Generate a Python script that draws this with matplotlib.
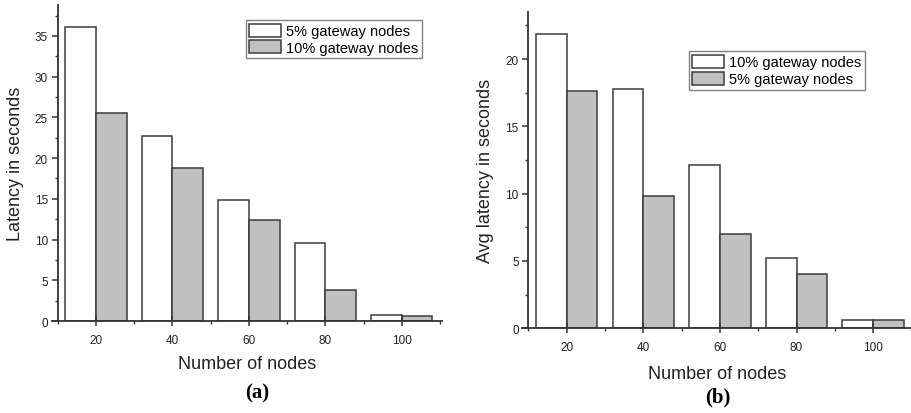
import matplotlib
matplotlib.use("Agg")
import matplotlib.pyplot as plt
import numpy as np
from matplotlib.ticker import MultipleLocator

plt.rcParams['font.family'] = ['Liberation Sans', 'DejaVu Sans']

# Dados
nodes = [20, 40, 60, 80, 100]
lat_a_5 = [36.1, 22.7, 14.9, 9.6, 0.7]
lat_a_10 = [25.5, 18.8, 12.4, 3.8, 0.6]
lat_b_10 = [21.9, 17.8, 12.1, 5.2, 0.6]
lat_b_5 = [17.6, 9.8, 7.0, 4.0, 0.6]

edge = '#3c3c3c'
cinza = '#c0c0c0'
eixo = '#333333'

fig = plt.figure(figsize=(9.11, 4.14), dpi=100)
ax1 = fig.add_axes([0.0567, 0.2222, 0.4285, 0.7633])
ax2 = fig.add_axes([0.5733, 0.2046, 0.4280, 0.7640])


def desenha(ax, v1, v2, lab1, lab2, ymax, xmax, ylabel, leg_pos, xpad):
  x = np.array(nodes)
  ax.bar(x - 4, v1, width=8, color='white', edgecolor=edge, linewidth=1.1, label=lab1)
  ax.bar(x + 4, v2, width=8, color=cinza, edgecolor=edge, linewidth=1.1, label=lab2)
  ax.set_xlim(8.4, xmax)
  ax.set_ylim(0, ymax)
  # eixo y cruza o eixo x em 10
  ax.spines['left'].set_position(('data', 10))
  ax.set_xticks(nodes)
  ax.xaxis.set_minor_locator(MultipleLocator(10))
  ax.yaxis.set_major_locator(MultipleLocator(5))
  ax.yaxis.set_minor_locator(MultipleLocator(2.5))
  for s in ['top', 'right']:
    ax.spines[s].set_visible(False)
  for s in ['left', 'bottom']:
    ax.spines[s].set_color(eixo)
    ax.spines[s].set_linewidth(1.3)
  ax.tick_params(which='major', direction='out', length=4, width=1.1, color=eixo,
                 labelsize=8.5, labelcolor='#222222', pad=3)
  ax.tick_params(axis='x', which='major', direction='inout', length=7, pad=6)
  ax.tick_params(which='minor', direction='out', length=2.5, width=1.0, color=eixo)
  ax.set_xlabel('Number of nodes', fontsize=13, labelpad=xpad, color='#222222')
  ax.set_ylabel(ylabel, fontsize=13, labelpad=8, color='#222222')
  ax.legend(loc='upper right', bbox_to_anchor=leg_pos, borderaxespad=0,
            fontsize=10.5, fancybox=False, edgecolor='#808080', framealpha=1,
            handlelength=2.2, handleheight=1.0, labelspacing=0.15,
            handletextpad=0.3, borderpad=0.25)


desenha(ax1, lat_a_5, lat_a_10, '5% gateway nodes', '10% gateway nodes',
        38.8, 110.5, 'Latency in seconds', (0.948, 0.953), 6)
desenha(ax2, lat_b_10, lat_b_5, '10% gateway nodes', '5% gateway nodes',
        23.5, 110.2, 'Avg latency in seconds', (0.878, 0.876), 8)

fig.text(0.282, 0.05, '(a)', fontsize=15, fontweight='bold',
         family='Liberation Serif', ha='center', va='center')
fig.text(0.788, 0.04, '(b)', fontsize=15, fontweight='bold',
         family='Liberation Serif', ha='center', va='center')

fig.savefig('out.png', dpi=100)
